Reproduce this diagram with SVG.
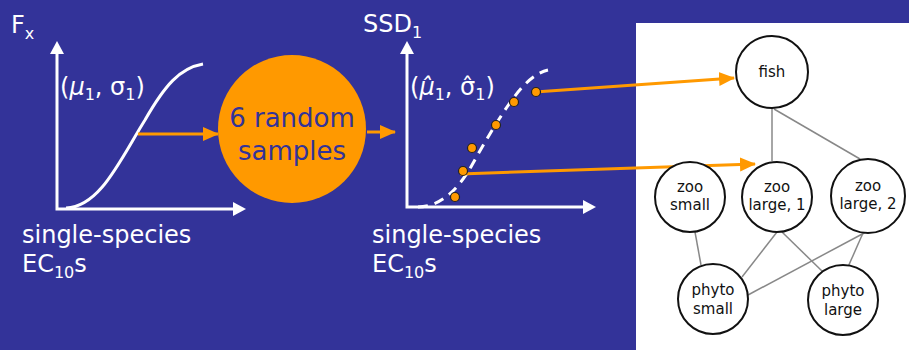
<svg xmlns="http://www.w3.org/2000/svg" width="909" height="350" viewBox="0 0 909 350">
<defs>
<style>
.wt{font-family:"DejaVu Sans","Liberation Sans",sans-serif;fill:#ffffff;font-size:24px}
.sub{font-size:16px}
.ax{stroke:#ffffff;stroke-width:3;fill:none}
.ah{fill:#ffffff}
.or{stroke:#ff9900;stroke-width:3;fill:none}
.node circle{fill:#ffffff;stroke:#111111;stroke-width:2}
.node text{font-family:"DejaVu Sans","Liberation Sans",sans-serif;font-size:15px;fill:#111111;text-anchor:middle}
.edge{stroke:#888888;stroke-width:1.5;fill:none}
.dot{fill:#ff9900;stroke:#222222;stroke-width:1.2}
</style>
<marker id="oa" markerUnits="userSpaceOnUse" markerWidth="16" markerHeight="16" viewBox="0 0 16 16" refX="15" refY="8" orient="auto">
<path d="M0,1 L16,8 L0,15 Z" fill="#ff9900"/>
</marker>
</defs>
<rect x="0" y="0" width="909" height="350" fill="#333399"/>
<rect x="636" y="23" width="273" height="327" fill="#ffffff"/>

<g id="plot1">
<text class="wt" x="11" y="33" font-size="27">F<tspan class="sub" dy="6">x</tspan></text>
<path class="ax" d="M57,50 V209 H238"/>
<path class="ah" d="M57,41 L50,54 L64,54 Z"/>
<path class="ah" d="M246,209 L233,202 L233,216 Z"/>
<path class="ax" d="M66,208 C100,207 120,160 145,120 C165,85 180,68 203,64"/>
<text class="wt" x="60" y="95"><tspan>(</tspan><tspan font-style="italic">μ</tspan><tspan class="sub" dy="5">1</tspan><tspan dy="-5">, σ</tspan><tspan class="sub" dy="5">1</tspan><tspan dy="-5">)</tspan></text>
<text class="wt" x="22" y="243">single-species</text>
<text class="wt" x="22" y="272">EC<tspan class="sub" dy="6">10</tspan><tspan dy="-6">s</tspan></text>
</g>

<g id="samples">
<circle cx="292" cy="129" r="74" fill="#ff9900"/>
<text x="292" y="127" font-family="DejaVu Sans, sans-serif" font-size="26" fill="#333399" text-anchor="middle">6 random</text>
<text x="292" y="160" font-family="DejaVu Sans, sans-serif" font-size="26" fill="#333399" text-anchor="middle">samples</text>
</g>

<g id="plot2">
<text class="wt" x="363" y="32">SSD<tspan class="sub" dy="6">1</tspan></text>
<path class="ax" d="M407,50 V207 H587"/>
<path class="ah" d="M407,41 L400,54 L414,54 Z"/>
<path class="ah" d="M596,207 L583,200 L583,214 Z"/>
<path d="M418,207 C440,207 458,190 472,165 S495,125 505,110 S530,74 548,70" stroke="#ffffff" stroke-width="3" fill="none" stroke-dasharray="10,7"/>
<text class="wt" x="410" y="95"><tspan>(</tspan><tspan font-style="italic">μ̂</tspan><tspan class="sub" dy="5">1</tspan><tspan dy="-5">, σ̂</tspan><tspan class="sub" dy="5">1</tspan><tspan dy="-5">)</tspan></text>
<text class="wt" x="372" y="243">single-species</text>
<text class="wt" x="372" y="272">EC<tspan class="sub" dy="6">10</tspan><tspan dy="-6">s</tspan></text>
</g>

<g id="connectors">
<line class="or" x1="138" y1="134" x2="218" y2="134" marker-end="url(#oa)"/>
<line class="or" x1="367" y1="132" x2="395" y2="132" marker-end="url(#oa)"/>
<line class="or" x1="535" y1="92" x2="734" y2="78" marker-end="url(#oa)"/>
<line class="or" x1="460" y1="174" x2="755" y2="164" marker-end="url(#oa)"/>
<line class="edge" x1="772" y1="108" x2="772" y2="161"/>
<line class="edge" x1="774" y1="109" x2="860" y2="159"/>
<line class="edge" x1="695" y1="232" x2="701" y2="265"/>
<line class="edge" x1="777" y1="232" x2="742" y2="277"/>
<line class="edge" x1="782" y1="232" x2="823" y2="272"/>
<line class="edge" x1="866" y1="232" x2="748" y2="295"/>
<line class="edge" x1="863" y1="233" x2="848" y2="267"/>
</g>

<g id="dots">
<circle class="dot" cx="455" cy="197" r="4.5"/>
<circle class="dot" cx="463" cy="171" r="4.5"/>
<circle class="dot" cx="472" cy="148" r="4.5"/>
<circle class="dot" cx="496" cy="125" r="4.5"/>
<circle class="dot" cx="514" cy="102" r="4.5"/>
<circle class="dot" cx="536" cy="92" r="4.5"/>
</g>

<g id="fish" class="node"><circle cx="772" cy="72" r="36"/><text x="772" y="77">fish</text></g>
<g id="zoo-small" class="node"><circle cx="690" cy="197" r="35"/><text x="690" y="192">zoo</text><text x="690" y="210">small</text></g>
<g id="zoo-large-1" class="node"><circle cx="777" cy="197" r="35"/><text x="777" y="192">zoo</text><text x="777" y="210">large, 1</text></g>
<g id="zoo-large-2" class="node"><circle cx="868" cy="196" r="37"/><text x="868" y="191">zoo</text><text x="868" y="209">large, 2</text></g>
<g id="phyto-small" class="node"><circle cx="713" cy="299" r="35"/><text x="713" y="295">phyto</text><text x="713" y="314">small</text></g>
<g id="phyto-large" class="node"><circle cx="843" cy="300" r="35"/><text x="843" y="296">phyto</text><text x="843" y="315">large</text></g>
</svg>
